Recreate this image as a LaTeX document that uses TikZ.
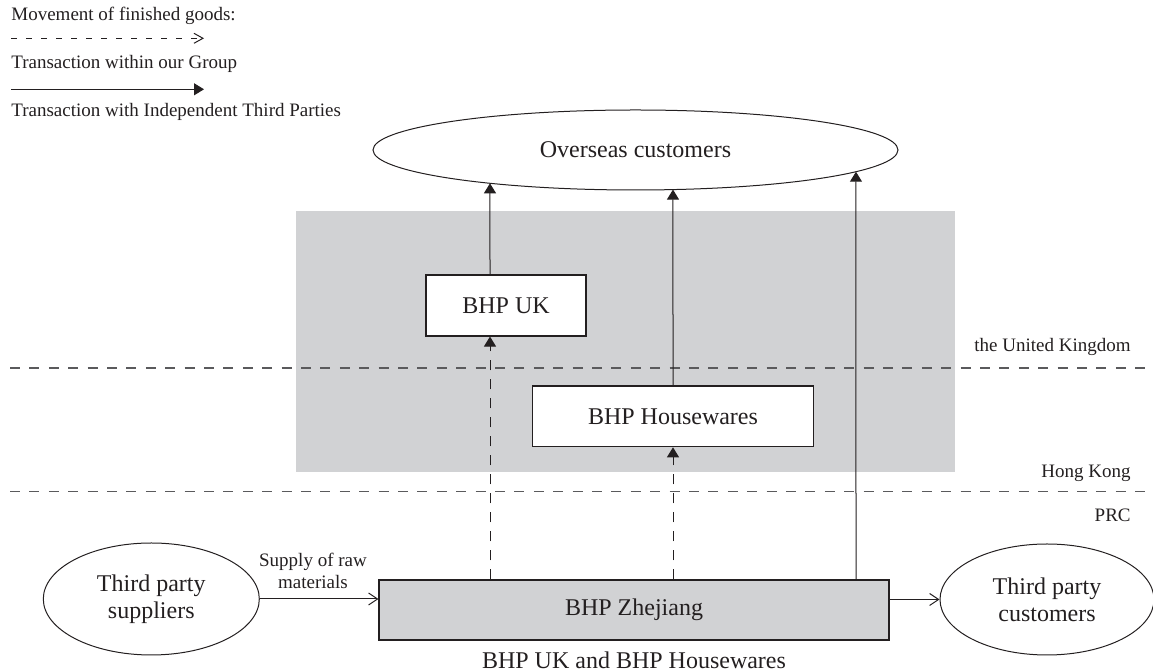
\documentclass[tikz,border=0pt]{standalone}
\usepackage{fontspec}
\setmainfont{Liberation Serif}
\usetikzlibrary{arrows.meta,intersections,calc,shapes.geometric}
\definecolor{ink}{HTML}{231F20}
\definecolor{band}{HTML}{D1D2D4}
\definecolor{border}{HTML}{5A5A5C}
\begin{document}
\begin{tikzpicture}[x=0.5pt,y=-0.5pt,
  big/.style={font=\fontsize{12}{13.5}\selectfont, text=ink},
  small/.style={font=\fontsize{9.5}{11}\selectfont, text=ink},
  box/.style={draw=ink, line width=0.55pt, rectangle, inner sep=0pt, big},
  oval/.style={draw=ink, line width=0.5pt, ellipse, inner sep=0pt, big, align=center},
  flow/.style={draw=ink, line width=0.5pt, -{Triangle[length=5pt,width=6pt]}},
  group/.style={flow, dash pattern=on 5pt off 4.5pt},
  plain/.style={draw=ink, line width=0.5pt, -{Straight Barb[length=4.5pt,width=6pt]}},
  border line/.style={draw=border, line width=0.6pt, dash pattern=on 5pt off 4.7pt},
  lbl/.style={small, inner sep=0pt}]
\useasboundingbox (0,0) rectangle (1153,672);

% legend
\node[lbl, anchor=west] (lg1) at (11,15.5) {Movement of finished goods:};
\coordinate (la1) at (11,38.3);
\coordinate (la2) at (204,38.3);
\draw[draw=ink, line width=0.5pt, dash pattern=on 3pt off 4.5pt, -{Straight Barb[length=4.5pt,width=5pt]}] (la1) -- (la2);
\node[lbl, anchor=west] (lg2) at (11,63.8) {Transaction within our Group};
\coordinate (lb1) at (11,89.3);
\coordinate (lb2) at (204,89.3);
\draw[flow] (lb1) -- (lb2);
\node[lbl, anchor=west] (lg3) at (11,112) {Transaction with Independent Third Parties};

% band
\fill[band] (296,211) rectangle (955,471.7);

% region borders
\coordinate (ukl) at (10,368);
\coordinate (ukr) at (1153,368);
\coordinate (hkl) at (10,491.7);
\coordinate (hkr) at (1153,491.7);
\draw[border line] (ukl) -- (ukr);
\draw[border line] (hkl) -- (hkr);
\node[lbl, anchor=east] (uk-lbl) at (1131,346.5) {the United Kingdom};
\node[lbl, anchor=east] (hk-lbl) at (1131,473) {Hong Kong};
\node[lbl, anchor=east] (prc-lbl) at (1131,515) {PRC};

% nodes
\node[oval, name path=ovb, minimum width=262.5pt, minimum height=40pt] (ov) at (635.5,150) {Overseas customers};
\node[box, fill=white, minimum width=80pt, minimum height=30.5pt] (uk) at (506,305.5) {BHP UK};
\node[box, fill=white, minimum width=140.3pt, minimum height=30.35pt] (hw) at (673,416.4) {BHP Housewares};
\node[box, fill=band, minimum width=255pt, minimum height=30pt] (zj) at (634,610) {BHP Zhejiang};
\node[oval, minimum width=108pt, minimum height=56pt] (sup) at (151.3,599) {Third party\\suppliers};
\node[oval, minimum width=107pt, minimum height=55.5pt] (cus) at (1047,599.5) {Third party\\customers};
\node[small, align=center, inner sep=0pt] (raw) at (313,571) {Supply of raw\\materials};
\node[big, inner sep=0pt] (cap) at (634,660.5) {BHP UK and BHP Housewares};

% column positions
\coordinate (c1) at (490,0);
\coordinate (c2) at (673,0);
\coordinate (c3) at (856,0);

% connectors
\path[name path=v1] (uk.north -| c1) -- (ov.center -| c1);
\path[name path=v2] (hw.north -| c2) -- (ov.center -| c2);
\path[name path=v3] (zj.north -| c3) -- (ov.center -| c3);
\draw[flow, name intersections={of=ovb and v1}] (uk.north -| c1) -- (intersection-1);
\draw[flow, name intersections={of=ovb and v2}] (hw.north -| c2) -- (intersection-1);
\draw[flow, name intersections={of=ovb and v3}] (zj.north -| c3) -- (intersection-1);
\draw[group] (zj.north -| c1) -- (uk.south -| c1);
\draw[group] (zj.north -| c2) -- (hw.south -| c2);
\draw[plain] (sup.east) -- (sup.east -| zj.west);
\draw[plain] (zj.east |- cus.west) -- (cus.west);
\end{tikzpicture}
\end{document}
